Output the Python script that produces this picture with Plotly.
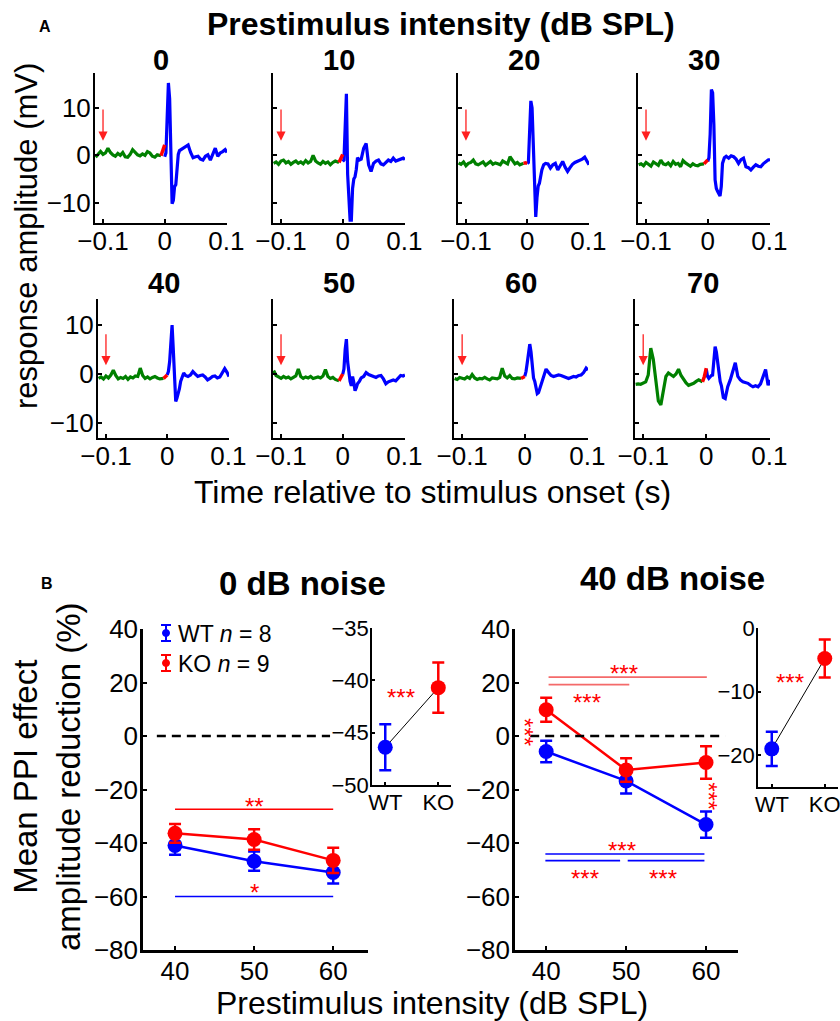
import plotly.graph_objects as go

FONT = "Liberation Sans, Arial, Helvetica, sans-serif"
W, H = 840, 1021


def fx(px):
    return px / W


def fy(py):
    return 1 - py / H


# ---------------- Panel A data (response traces, mV) ----------------
A_LEVELS = ["0", "10", "20", "30", "40", "50", "60", "70"]

T_PRE = [-0.112, -0.108, -0.104, -0.100, -0.096, -0.092, -0.088, -0.084, -0.080,
         -0.076, -0.072, -0.068, -0.064, -0.060, -0.056, -0.052, -0.048, -0.044,
         -0.040, -0.036, -0.032, -0.028, -0.024, -0.020, -0.016, -0.012, -0.006]
T_STIM = [-0.006, -0.003, 0.000]
T_POST = [0.000, 0.002, 0.004, 0.006, 0.008, 0.010, 0.012, 0.014, 0.016, 0.018,
          0.020, 0.022, 0.024, 0.027, 0.030, 0.034, 0.038, 0.042, 0.046, 0.050,
          0.054, 0.058, 0.062, 0.066, 0.070, 0.074, 0.078, 0.082, 0.086, 0.090,
          0.094, 0.098, 0.101]

GREEN_0 = [-0.4, 0.3, 0.8, 0.2, 0.5, 1.5, 0.6, 0.1, -0.2, 0.4, 0.0, 0.6, -0.3, -0.4,
           0.2, 1.2, 0.7, 0.1, -0.1, 0.3, 0.0, 0.8, 0.5, -0.2, -0.4, 0.1, -0.1]
GREEN_10 = [-1.7, -1.4, -1.9, -1.2, -1.0, -1.6, -1.3, -1.9, -1.5, -1.2, -1.7, -1.4, -1.8,
            -1.1, -1.6, -1.3, 0.0, -1.2, -1.6, -1.9, -1.3, -1.7, -1.4, -2.0, -1.5, -1.2, -1.5]
GREEN_20 = [-1.6, -1.9, -1.4, -2.2, -1.7, -1.5, -1.0, -1.8, -2.0, -1.6, -1.4, -2.1, -1.7,
            -1.3, -1.9, -1.6, -1.8, -2.0, -1.2, -1.5, -1.8, -0.3, -1.2, -1.8, -1.5, -2.0, -1.7]
GREEN_30 = [-2.0, -1.8, -2.2, -1.5, -1.9, -2.3, -1.4, -1.7, -2.1, -1.0, -1.8, -2.0, -1.6,
            -2.2, -1.3, -1.9, -1.7, -2.4, -1.1, -1.6, -2.0, -2.3, -1.8, -2.1, -2.2, -1.9, -1.8]
GREEN_40 = [-0.9, -0.6, -1.0, -0.4, -0.8, -0.2, 0.8, -0.3, -1.0, -0.7, -0.9, -0.5, -1.1,
            -0.6, -0.8, -0.4, -0.5, 1.2, -0.3, -0.9, -0.6, -1.0, -0.7, -0.5, -0.8, -1.0, -0.9]
GREEN_50 = [0.7, -0.3, -0.6, -0.9, -0.5, -0.8, -0.6, -1.0, -0.7, -0.4, 1.0, -0.5, -0.9,
            -0.6, -0.8, -0.5, -0.9, -0.7, -0.6, -0.8, -0.4, 0.9, -0.5, -0.9, -0.7, -1.1, -1.4]
GREEN_60 = [-0.9, -1.1, -0.7, -0.9, -1.0, -0.6, -0.9, -0.1, -0.8, -1.1, -0.9, -1.0, -0.7,
            -1.0, -1.2, -0.8, -0.9, -1.0, -0.7, 1.2, -0.4, -0.8, -0.3, -0.9, -1.0, -0.8, -0.9]
GREEN_70 = [-2.1, -2.0, -2.1, -1.8, -1.6, -0.2, 5.3, 3.0, -2.0, -5.5, -6.3, -3.5, -0.5,
            0.2, -0.2, -0.5, 0.0, 1.0, -0.3, -1.2, -1.8, -2.3, -2.1, -1.9, -1.5, -1.2, -1.6]

RED_0 = [-0.1, 1.2, 2.2]
RED_10 = [-1.5, -0.8, 0.2]
RED_20 = [-1.7, -1.6, -1.7]
RED_30 = [-1.8, -1.3, -1.0]
RED_40 = [-0.9, -0.6, -0.2]
RED_50 = [-1.4, -0.7, 0.0]
RED_60 = [-0.9, -0.7, -0.5]
RED_70 = [-1.6, -0.5, 1.2]

BLUE_0 = [-0.3, 0.5, 8.0, 15.3, 12.0, -2.0, -10.2, -9.5, -6.6, -6.2, -3.0, 0.2, 1.0,
          1.3, 1.5, 2.0, 2.2, 0.6, -0.5, -0.3, -0.2, -0.8, -1.0, -0.2, 0.1, -1.0, 0.3,
          1.5, -0.2, 0.5, 0.8, 1.2, 0.6]
BLUE_10 = [-1.3, -1.0, 6.0, 13.0, -4.0, -11.0, -13.7, -13.7, -7.0, -5.0, -4.5, -3.0,
           -0.5, -1.0, -0.8, 1.5, 2.5, -2.0, -3.4, -1.7, -1.2, -1.0, -1.8, -2.0, -1.5,
           -1.0, -1.3, -0.6, -1.2, -1.0, -0.8, -0.6, -0.9]
BLUE_20 = [-1.7, -1.5, 5.0, 11.5, 10.0, 2.0, -8.0, -13.0, -9.0, -6.5, -5.9, -4.5, -3.1,
           -2.0, -1.7, -1.8, -2.7, -2.0, -1.7, -3.1, -2.2, -1.3, -2.5, -3.4, -2.6, -1.9,
           -1.5, -1.3, -1.0, -0.8, -0.4, -1.2, -2.0]
BLUE_30 = [-1.3, -0.5, 4.5, 13.9, 13.2, 6.5, -5.2, -7.0, -7.6, -8.0, -8.6, -6.6, -1.7,
           -0.5, -0.2, -0.6, -0.1, -0.3, -0.8, -1.7, -0.9, -0.6, -2.4, -2.6, -3.1, -2.5,
           -2.0, -2.3, -2.4, -1.8, -1.3, -1.0, -0.9]
BLUE_40 = [-0.2, 0.5, 2.5, 8.0, 10.0, 5.0, -1.5, -5.6, -4.9, -4.0, -3.0, -1.5, -0.6,
           0.2, -0.3, -0.5, -0.2, 0.5, 0.0, -0.5, -0.3, -0.2, -0.6, -1.2, -0.9, -0.5,
           -0.4, -0.8, -0.6, 0.2, 1.1, 0.3, -0.5]
BLUE_50 = [-0.1, 1.0, 5.0, 7.1, 2.5, 0.0, -1.5, -2.4, -0.5, -1.7, -3.4, -2.8, -2.0,
           -1.5, -0.8, -0.5, 0.3, -0.1, -0.3, -0.6, -0.7, -0.4, -0.3, -1.0, -2.0, -1.6,
           -1.4, -1.2, -1.4, -0.9, -0.3, -0.4, -0.2]
BLUE_60 = [-0.5, 0.5, 2.3, 5.0, 6.1, 4.5, 1.0, -0.8, -1.5, -2.5, -4.0, -3.8, -3.0,
           -2.0, -1.0, 1.0, 0.3, -0.3, -0.5, -0.4, -0.2, -0.3, -0.5, -0.6, -0.9, -0.7,
           -0.5, -0.6, -0.3, -0.2, 0.3, 1.2, 0.8]
BLUE_70 = [1.0, -0.5, -0.9, -0.5, -0.3, -0.2, 3.0, 5.6, 4.5, 2.3, 0.0, -1.5, -2.4,
           -4.8, -5.0, -2.6, -1.2, 0.3, 2.3, -0.5, -1.2, -1.6, -1.8, -1.9, -2.3, -2.6,
           -2.4, -2.6, -2.0, -0.5, 0.9, -2.3, -1.2]

A_GREEN = [GREEN_0, GREEN_10, GREEN_20, GREEN_30, GREEN_40, GREEN_50, GREEN_60, GREEN_70]
A_RED = [RED_0, RED_10, RED_20, RED_30, RED_40, RED_50, RED_60, RED_70]
A_BLUE = [BLUE_0, BLUE_10, BLUE_20, BLUE_30, BLUE_40, BLUE_50, BLUE_60, BLUE_70]

A_XTICKS = [-0.1, 0, 0.1]
A_YTICKS = [-10, 0, 10]
ARROW_T = -0.1
ARROW_Y = [(10.0, 3.1), (8.4, 1.8)]  # (tail, tip) for each row

# ---------------- Panel B data (PPI, %) ----------------
B_INTENSITY = [40, 50, 60]
WT_0DB = [-40.9, -46.8, -51.0]
WT_0DB_ERR = [3.5, 3.6, 4.1]
KO_0DB = [-36.4, -38.7, -46.5]
KO_0DB_ERR = [3.5, 3.8, 4.7]
WT_40DB = [-5.8, -16.8, -33.1]
WT_40DB_ERR = [4.0, 4.7, 4.9]
KO_40DB = [9.8, -12.7, -9.9]
KO_40DB_ERR = [4.5, 4.4, 6.1]

INSET_GROUPS = ["WT", "KO"]
INSET_0DB = [-46.4, -40.7]
INSET_0DB_ERR = [2.2, 2.4]
INSET_40DB = [-19.0, -4.8]
INSET_40DB_ERR = [2.7, 3.0]

B_YTICKS = [-80, -60, -40, -20, 0, 20, 40]

# ---------------- layout geometry (pixels) ----------------
A_ROW_X = [[(95, 227), (273, 405), (458, 589), (638, 770)],
           [(98, 229), (273, 405), (454, 588), (635, 770)]]
A_ROW_Y = [(73, 223), (299, 438)]
A_YRANGE = [[-14.3, 17.4], [-13.05, 15.3]]
A_XRANGE = [-0.113, 0.101]

fig = go.Figure()
layout = dict(
    template="none",
    width=W, height=H, margin=dict(l=0, r=0, t=0, b=0, pad=0), autosize=False,
    paper_bgcolor="white", plot_bgcolor="white", showlegend=False,
    font=dict(family=FONT, color="black"),
)


def axname(k):
    return ("x", "y") if k == 1 else (f"x{k}", f"y{k}")


def laykey(k):
    return ("xaxis", "yaxis") if k == 1 else (f"xaxis{k}", f"yaxis{k}")


def base_axis(**kw):
    d = dict(showline=True, linecolor="black", linewidth=2, ticks="inside",
             ticklen=4, tickwidth=1.5, tickcolor="black", showgrid=False,
             zeroline=False, mirror=False, fixedrange=True, automargin=False,
             tickfont=dict(family=FONT, size=26, color="black"))
    d.update(kw)
    return d


annotations = []
shapes = []

# ---------------- Panel A ----------------
for i, lvl in enumerate(A_LEVELS):
    k = i + 1
    row, col = divmod(i, 4)
    xa, ya = axname(k)
    xk, yk = laykey(k)
    x0, x1 = A_ROW_X[row][col]
    top, bot = A_ROW_Y[row]
    layout[xk] = base_axis(domain=[fx(x0), fx(x1)], range=A_XRANGE, anchor=ya,
                           tickvals=A_XTICKS, ticklabelstandoff=-6)
    layout[yk] = base_axis(domain=[fy(bot), fy(top)], range=A_YRANGE[row], anchor=xa,
                           tickvals=A_YTICKS, showticklabels=(col == 0),
                           ticklabelstandoff=-3)
    fig.add_trace(go.Scatter(x=T_PRE, y=A_GREEN[i], xaxis=xa, yaxis=ya, mode="lines",
                             line=dict(color="#008000", width=3.2)))
    fig.add_trace(go.Scatter(x=T_POST, y=A_BLUE[i], xaxis=xa, yaxis=ya, mode="lines",
                             line=dict(color="#0000ff", width=3.2)))
    fig.add_trace(go.Scatter(x=T_STIM, y=A_RED[i], xaxis=xa, yaxis=ya, mode="lines",
                             line=dict(color="#ff0000", width=3.5)))
    tail, tip = ARROW_Y[row]
    annotations.append(dict(x=ARROW_T, y=tip, ax=ARROW_T, ay=tail, xref=xa, yref=ya,
                            axref=xa, ayref=ya, text="", showarrow=True, arrowhead=2,
                            arrowsize=1.4, arrowwidth=1.3, arrowcolor="#ff2020",
                            standoff=0))
    title_y = [60, 283][row]
    annotations.append(dict(x=fx((x0 + x1) / 2), y=fy(title_y), xref="paper", yref="paper",
                            xanchor="center", yanchor="middle",
                            text=f"<b>{lvl}</b>", showarrow=False,
                            font=dict(size=29, family=FONT, color="black")))

# ---------------- Panel B ----------------
B_GEOM = {
    9: dict(x=(143, 368), y=(629, 950), xr=[35.95, 64.4], yr=[-80, 40]),
    10: dict(x=(372, 451), y=(628, 785), xr=[-0.25, 1.24], yr=[-50, -35]),
    11: dict(x=(515, 738), y=(629, 950), xr=[36.1, 64.0], yr=[-80, 40]),
    12: dict(x=(758, 838), y=(628, 787), xr=[-0.26, 1.25], yr=[-25, 0]),
}
for k, g in B_GEOM.items():
    xa, ya = axname(k)
    xk, yk = laykey(k)
    inset = k in (10, 12)
    if inset:
        layout[xk] = base_axis(domain=[fx(g["x"][0]), fx(g["x"][1])], range=g["xr"],
                               anchor=ya, type="category", linewidth=1.5, ticklen=3,
                               tickfont=dict(family=FONT, size=22, color="black"),
                               ticklabelstandoff=-3)
        ticks = [-50, -45, -40, -35] if k == 10 else [-20, -10, 0]
        layout[yk] = base_axis(domain=[fy(g["y"][1]), fy(g["y"][0])], range=g["yr"],
                               anchor=xa, tickvals=ticks, linewidth=1.5, ticklen=3,
                               tickfont=dict(family=FONT, size=22, color="black"),
                               ticklabelstandoff=-3)
    else:
        layout[xk] = base_axis(domain=[fx(g["x"][0]), fx(g["x"][1])], range=g["xr"],
                               anchor=ya, tickvals=B_INTENSITY, linewidth=2.5,
                               ticklabelstandoff=-4)
        layout[yk] = base_axis(domain=[fy(g["y"][1]), fy(g["y"][0])], range=g["yr"],
                               anchor=xa, tickvals=B_YTICKS, linewidth=2.5,
                               ticklabelstandoff=-3)

# zero dashed lines
ZERO_SPAN_0DB = [37.7, 59.6]
ZERO_SPAN_40DB = [38.0, 62.4]
for k, span in ((9, ZERO_SPAN_0DB), (11, ZERO_SPAN_40DB)):
    xa, ya = axname(k)
    shapes.append(dict(type="line", xref=xa, yref=ya, x0=span[0], x1=span[1], y0=0, y1=0,
                       line=dict(color="black", width=2.5, dash="9px,6px")))

# significance lines
SIG_0DB = [  # (x0, x1, y, colour)
    (40, 60, -27.4, "#ff0000"),
    (40, 60, -60.0, "#0000ff"),
]
SIG_40DB = [
    (40.3, 60.1, 22.0, "#f46a6a"),
    (40.3, 50.4, 19.2, "#f46a6a"),
    (39.9, 59.8, -44.1, "#0000ff"),
    (39.9, 49.25, -46.6, "#0000ff"),
    (50.2, 59.8, -46.6, "#0000ff"),
]
for k, lines in ((9, SIG_0DB), (11, SIG_40DB)):
    xa, ya = axname(k)
    for x0, x1, yv, c in lines:
        shapes.append(dict(type="line", xref=xa, yref=ya, x0=x0, x1=x1, y0=yv, y1=yv,
                           line=dict(color=c, width=1.6)))


def group_trace(x, y, err, color, xa, ya, mode="lines+markers"):
    return go.Scatter(x=x, y=y, xaxis=xa, yaxis=ya, mode=mode,
                      line=dict(color=color, width=2.5),
                      marker=dict(color=color, size=15),
                      error_y=dict(type="data", array=err, visible=True, color=color,
                                   thickness=2.5, width=6))


xa, ya = axname(9)
fig.add_trace(group_trace(B_INTENSITY, WT_0DB, WT_0DB_ERR, "#0000ff", xa, ya))
fig.add_trace(group_trace(B_INTENSITY, KO_0DB, KO_0DB_ERR, "#ff0000", xa, ya))
xa, ya = axname(11)
fig.add_trace(group_trace(B_INTENSITY, WT_40DB, WT_40DB_ERR, "#0000ff", xa, ya))
fig.add_trace(group_trace(B_INTENSITY, KO_40DB, KO_40DB_ERR, "#ff0000", xa, ya))

for k, vals, errs in ((10, INSET_0DB, INSET_0DB_ERR), (12, INSET_40DB, INSET_40DB_ERR)):
    xa, ya = axname(k)
    fig.add_trace(go.Scatter(x=INSET_GROUPS, y=vals, xaxis=xa, yaxis=ya, mode="lines",
                             line=dict(color="black", width=1)))
    for j, c in enumerate(["#0000ff", "#ff0000"]):
        fig.add_trace(go.Scatter(x=[INSET_GROUPS[j]], y=[vals[j]], xaxis=xa, yaxis=ya,
                                 mode="markers", marker=dict(color=c, size=15),
                                 error_y=dict(type="data", array=[errs[j]], visible=True,
                                              color=c, thickness=2.5, width=6)))

# significance stars
STAR_SIZE = 24
STARS = [  # (axis, text, x, y, vertical)
    (9, "**", 50, -23.7, False),
    (9, "*", 50, -56.0, False),
    (11, "***", 49.75, 25.9, False),
    (11, "***", 45.1, 15.1, False),
    (11, "***", 49.5, -40.2, False),
    (11, "***", 44.9, -50.6, False),
    (11, "***", 54.6, -50.6, False),
    (11, "***", 38.1, 1.5, True),
    (11, "***", 61.25, -22.5, True),
    (10, "***", 0.3, -41.0, False),
    (12, "***", 0.34, -7.4, False),
]
for k, txt, xv, yv, vert in STARS:
    xa, ya = axname(k)
    a = dict(x=xv, y=yv, xref=xa, yref=ya, text=txt, showarrow=False,
             xanchor="center", yanchor="middle",
             font=dict(family=FONT, size=STAR_SIZE, color="#ff0000"))
    if vert:
        a.update(textangle=90, xshift=-7)
    else:
        a.update(yshift=-7)
    annotations.append(a)

# legend (drawn)
LEGEND = [("WT <i>n</i> = 8", "#0000ff", 633), ("KO <i>n</i> = 9", "#ff0000", 663)]
for txt, c, yc in LEGEND:
    gx = 166
    shapes.append(dict(type="line", xref="paper", yref="paper", x0=fx(gx), x1=fx(gx),
                       y0=fy(yc - 8), y1=fy(yc + 8), line=dict(color=c, width=2)))
    for yy in (yc - 8, yc + 8):
        shapes.append(dict(type="line", xref="paper", yref="paper", x0=fx(gx - 5),
                           x1=fx(gx + 5), y0=fy(yy), y1=fy(yy), line=dict(color=c, width=2)))
    shapes.append(dict(type="circle", xref="paper", yref="paper", x0=fx(gx - 3.5),
                       x1=fx(gx + 3.5), y0=fy(yc + 3.5), y1=fy(yc - 3.5),
                       fillcolor=c, line=dict(color=c, width=1)))
    annotations.append(dict(x=fx(176), y=fy(yc + 1), xref="paper", yref="paper", text=txt,
                            showarrow=False, xanchor="left", yanchor="middle",
                            font=dict(family=FONT, size=23, color="black")))

# ---------------- text ----------------
TEXTS = [  # (text, x_px, y_px, size, angle)
    ("<b>A</b>", 45, 27, 16, 0),
    ("<b>B</b>", 47, 583, 16, 0),
    ("<b>Prestimulus intensity (dB SPL)</b>", 441, 24, 32, 0),
    ("response amplitude (mV)", 27, 236, 31, -90),
    ("Time relative to stimulus onset (s)", 433, 492, 32, 0),
    ("<b>0 dB noise</b>", 302, 583, 33, 0),
    ("<b>40 dB noise</b>", 672, 578, 33, 0),
    ("Mean PPI effect<br>amplitude reduction (%)", 47, 777, 33, -90),
    ("Prestimulus intensity (dB SPL)", 432, 1003, 32, 0),
]
for txt, xp, yp, size, ang in TEXTS:
    annotations.append(dict(x=fx(xp), y=fy(yp), xref="paper", yref="paper", text=txt,
                            showarrow=False, textangle=ang, xanchor="center",
                            yanchor="middle",
                            font=dict(family=FONT, size=size, color="black")))

layout["annotations"] = annotations
layout["shapes"] = shapes
fig.update_layout(**layout)
fig.write_html("out.html",
               config={"displayModeBar": False, "staticPlot": False},
               post_script="document.body.style.margin='0';"
                           "document.body.style.overflow='hidden';")
